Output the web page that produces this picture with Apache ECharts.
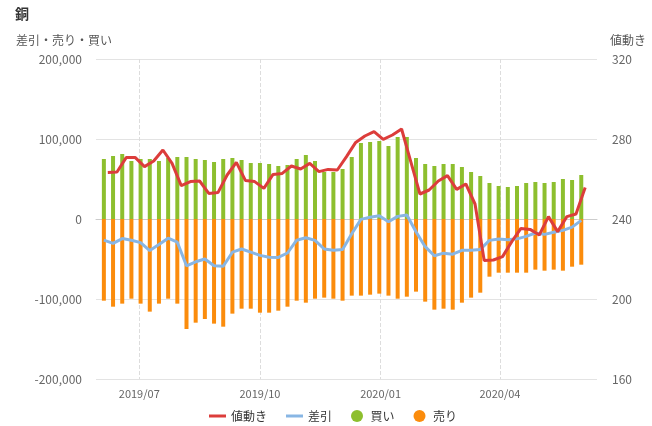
<!DOCTYPE html>
<html><head><meta charset="utf-8">
<script src="https://cdn.jsdelivr.net/npm/echarts@6/dist/echarts.min.js"></script>
<style>html,body{margin:0;padding:0;background:#fff}#c{width:652px;height:426px}</style>
</head><body><div id="c"></div>
<script>
// Weekly report dates (Tuesdays)
const reportDates = [
'2019-06-04','2019-06-11','2019-06-18','2019-06-25','2019-07-02','2019-07-09','2019-07-16','2019-07-23','2019-07-30',
'2019-08-06','2019-08-13','2019-08-20','2019-08-27','2019-09-03','2019-09-10','2019-09-17','2019-09-24',
'2019-10-01','2019-10-08','2019-10-15','2019-10-22','2019-10-29','2019-11-05','2019-11-12','2019-11-19','2019-11-26',
'2019-12-03','2019-12-10','2019-12-17','2019-12-24','2019-12-31','2020-01-07','2020-01-14','2020-01-21','2020-01-28',
'2020-02-04','2020-02-11','2020-02-18','2020-02-25','2020-03-03','2020-03-10','2020-03-17','2020-03-24','2020-03-31',
'2020-04-07','2020-04-14','2020-04-21','2020-04-28','2020-05-05','2020-05-12','2020-05-19','2020-05-26','2020-06-02'];
// Price dates (Fridays after each report)
const priceDates = [
'2019-06-07','2019-06-14','2019-06-21','2019-06-28','2019-07-05','2019-07-12','2019-07-19','2019-07-26','2019-08-02',
'2019-08-09','2019-08-16','2019-08-23','2019-08-30','2019-09-06','2019-09-13','2019-09-20','2019-09-27',
'2019-10-04','2019-10-11','2019-10-18','2019-10-25','2019-11-01','2019-11-08','2019-11-15','2019-11-22','2019-11-29',
'2019-12-06','2019-12-13','2019-12-20','2019-12-27','2020-01-03','2020-01-10','2020-01-17','2020-01-24','2020-01-31',
'2020-02-07','2020-02-14','2020-02-21','2020-02-28','2020-03-06','2020-03-13','2020-03-20','2020-03-27','2020-04-03',
'2020-04-10','2020-04-17','2020-04-24','2020-05-01','2020-05-08','2020-05-15','2020-05-22','2020-05-29','2020-06-05'];
const buyValues = [
75000,78750,81250,72500,75000,75000,72500,76250,77500,77500,75000,73750,71250,75000,76250,73750,70000,
70000,68750,66250,67500,75000,80000,72500,58750,58750,62500,77500,95000,96250,97500,91250,102500,102500,76250,
68750,66250,68750,68750,65000,58750,53750,45000,41250,40000,41250,45000,46250,45000,46250,50000,48750,55000];
const sellValues = [
-102100,-109600,-105800,-99600,-105800,-115800,-105800,-99600,-105800,-137500,-129600,-125000,-130800,-134600,-118300,-112100,-112100,
-117100,-117100,-114600,-109600,-102100,-104600,-99600,-98300,-99600,-102100,-95800,-95800,-94600,-93300,-95800,-99600,-97100,-90800,
-103300,-113300,-112100,-113300,-104600,-98300,-92100,-72100,-67100,-67100,-67100,-67100,-63300,-64600,-63300,-64600,-59600,-57100];
const netValues = [
-26500,-30500,-24500,-26500,-29500,-39500,-32000,-24000,-29000,-58500,-53500,-50000,-58500,-59000,-41500,-37500,-41500,
-45500,-47800,-48000,-42500,-26500,-23500,-26700,-37500,-39000,-38000,-18500,-500,2300,4000,-3500,3300,5000,-16000,
-34600,-46000,-42700,-44000,-39200,-39000,-38000,-26700,-25000,-25800,-24800,-21700,-17500,-19200,-16600,-14200,-10200,-1700];
const priceValues = [
263.3,263.5,270.7,270.7,266.2,269.0,274.5,267.8,256.7,258.7,259.0,252.8,253.2,262.0,268.3,259.2,258.7,
255.3,262.3,262.8,266.5,265.0,267.8,263.7,264.8,264.5,271.2,278.3,281.5,283.7,279.8,282.0,285.0,268.7,252.5,
254.5,259.0,261.7,254.8,257.5,247.5,219.2,219.5,221.2,228.7,235.3,234.8,232.0,241.2,233.7,241.2,242.5,255.8];
const xTickDates = ['2019-07-01','2019-10-01','2020-01-01','2020-04-01'];

const FONT = '"Noto Sans CJK JP", "Noto Sans", sans-serif';
function ts(s){const p=s.split('-').map(Number);return +new Date(p[0],p[1]-1,p[2]);}
const xTicks = xTickDates.map(ts);
function pairs(d,v){return d.map((x,i)=>[ts(x),v[i]]);}

const chart = echarts.init(document.getElementById('c'), null, {renderer:'canvas'});
const RED='#dc3d3b', BLUE='#88b6e4', GREEN='#8dbf2e', ORANGE='#fb8c0c';
const LINE_ICON = 'path://M0,0H17V3H0Z';
chart.setOption({
  animation:false,
  textStyle:{fontFamily:FONT},
  title:[
    {text:'銅', left:10, top:2, textStyle:{fontSize:14, fontWeight:'bold', color:'#333', fontFamily:FONT}},
    {text:'差引・売り・買い', left:11, top:29, textStyle:{fontSize:12, fontWeight:'normal', color:'#555', fontFamily:FONT}},
    {text:'値動き', left:605, top:29, textStyle:{fontSize:12, fontWeight:'normal', color:'#555', fontFamily:FONT}}
  ],
  grid:{left:96, right:55, top:59, bottom:47},
  legend:{
    left:204, top:405, itemWidth:17, itemHeight:12, itemGap:19,
    textStyle:{fontSize:12, color:'#333', fontFamily:FONT},
    data:[
      {name:'値動き', icon:LINE_ICON},
      {name:'差引', icon:LINE_ICON},
      {name:'買い', icon:'circle'},
      {name:'売り', icon:'circle'}
    ]
  },
  xAxis:{
    type:'value', min:ts('2019-05-29'), max:ts('2020-06-14'),
    axisLine:{lineStyle:{color:'#ccc'}},
    axisTick:{show:false, customValues:xTicks},
    axisLabel:{customValues:xTicks, color:'#666', fontSize:11, margin:9, fontFamily:FONT,
      formatter:function(v){const d=new Date(v);return d.getFullYear()+'/'+String(d.getMonth()+1).padStart(2,'0');}},
    splitLine:{show:true, lineStyle:{type:'dashed', color:'#ddd'}}
  },
  yAxis:[
    {type:'value', min:-200000, max:200000, interval:100000,
      axisLine:{show:false}, axisTick:{show:false},
      axisLabel:{color:'#666', fontSize:12, margin:14, fontFamily:FONT, formatter:function(v){return v.toLocaleString('en-US');}},
      splitLine:{lineStyle:{color:'#e3e3e3'}}},
    {type:'value', min:160, max:320, interval:40, position:'right',
      axisLine:{show:false}, axisTick:{show:false},
      axisLabel:{color:'#666', fontSize:12, margin:15, fontFamily:FONT},
      splitLine:{show:false}}
  ],
  series:[
    {name:'値動き', type:'line', yAxisIndex:1, data:pairs(priceDates, priceValues), symbol:'none',
      lineStyle:{width:3, color:RED}, itemStyle:{color:RED}, z:5},
    {name:'差引', type:'line', data:pairs(reportDates, netValues), symbol:'none',
      lineStyle:{width:3, color:BLUE}, itemStyle:{color:BLUE}, z:4},
    {name:'買い', type:'bar', data:pairs(reportDates, buyValues), barWidth:4, barGap:'-100%',
      itemStyle:{color:GREEN}, z:2},
    {name:'売り', type:'bar', data:pairs(reportDates, sellValues), barWidth:4, barGap:'-100%',
      itemStyle:{color:ORANGE}, z:2}
  ]
});
</script></body></html>
